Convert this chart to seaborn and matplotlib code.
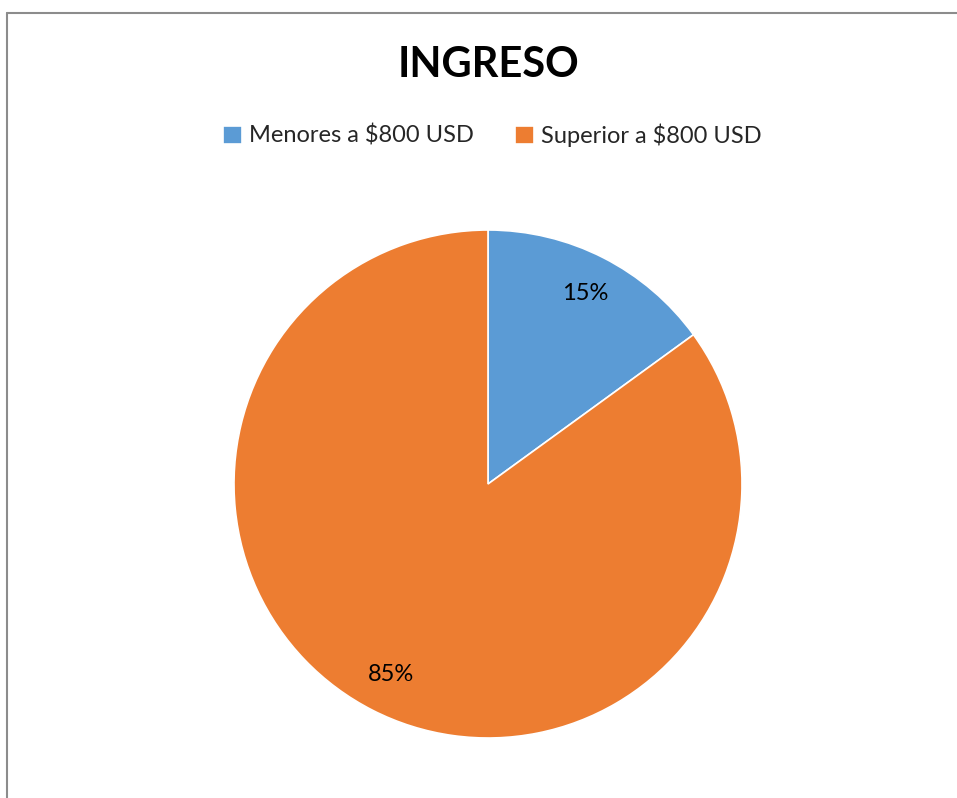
import matplotlib
matplotlib.use("Agg")
import matplotlib.pyplot as plt
import seaborn as sns
from matplotlib.lines import Line2D

categories = ["Menores a $800 USD", "Superior a $800 USD"]
values = [15, 85]
title = "INGRESO"

sns.set_theme(style="white")
plt.rcParams['font.family'] = ['Lato', 'DejaVu Sans']
colors = sns.color_palette(["#5B9BD5", "#ED7D31"])

W, H = 957, 798
fig = plt.figure(figsize=(W / 100, H / 100), dpi=100)
fig.patch.set_facecolor("white")

cx, cy, r = 488, 484, 254
ax = fig.add_axes([(cx - r) / W, 1 - (cy + r) / H, 2 * r / W, 2 * r / H])
wedges, texts, autotexts = ax.pie(
    values, colors=colors, startangle=90, counterclock=False,
    autopct=lambda p: f"{p:.0f}%", pctdistance=0.84,
    wedgeprops=dict(linewidth=1.2, edgecolor="white"),
    textprops=dict(fontsize=17, color="black"))
ax.set_xlim(-1, 1)
ax.set_ylim(-1, 1)
ax.set_aspect("auto")
ax.axis("off")

fig.text(488 / W, 1 - 65 / H, title, ha="center", va="center",
         fontsize=30, fontweight="bold", color="black")

fig.legend(wedges, categories, loc="center", bbox_to_anchor=(492 / W, 1 - 135 / H),
           ncol=2, frameon=False, fontsize=17, handlelength=0.8, handleheight=0.8,
           handletextpad=0.3, columnspacing=1.75)

# frame lines (left and top)
lc = "#8c8c8c"
fig.add_artist(Line2D([7.5 / W, 7.5 / W], [0, 1 - 13 / H], transform=fig.transFigure, color=lc, lw=1.5))
fig.add_artist(Line2D([7.5 / W, 1], [1 - 13 / H, 1 - 13 / H], transform=fig.transFigure, color=lc, lw=1.5))

fig.savefig("out.png", dpi=100, facecolor="white")
